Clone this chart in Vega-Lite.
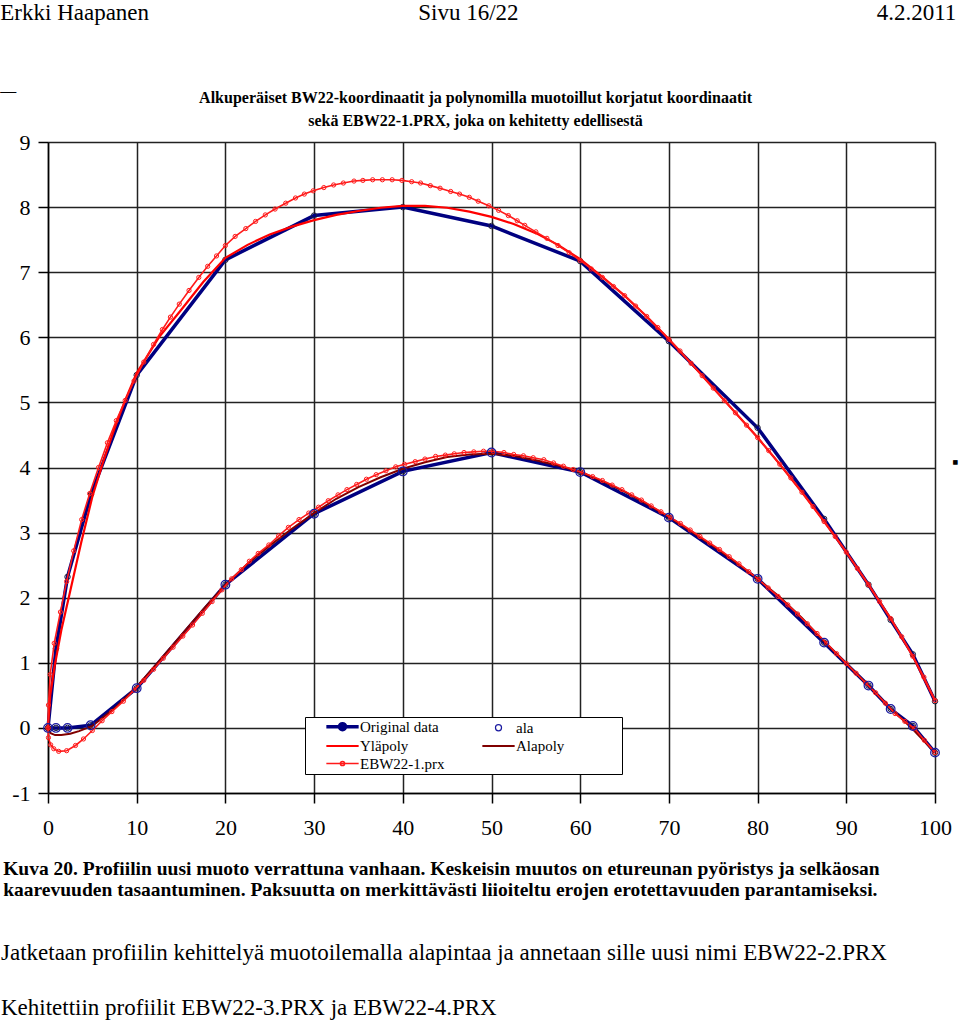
{
  "$schema": "https://vega.github.io/schema/vega-lite/v6.json",
  "width": 887,
  "height": 651,
  "autosize": {"type": "none"},
  "padding": {"left": 48, "top": 142, "right": 25, "bottom": 229},
  "background": "white",
  "config": {
    "view": {"stroke": null},
    "font": "Liberation Serif",
    "axis": {
      "domainColor": "#000", "domainWidth": 1.5,
      "tickColor": "#000", "tickWidth": 1.5, "tickSize": 10,
      "gridColor": "#222", "gridWidth": 1.5, "gridOpacity": 1,
      "labelFont": "Liberation Serif", "labelFontSize": 22, "labelColor": "#000",
      "title": null
    },
    "legend": {
      "labelFont": "Liberation Serif", "labelFontSize": 15, "labelColor": "#000"
    }
  },
  "datasets": {
    "notes": [
      {"id": "h1", "t": "Erkki Haapanen"},
      {"id": "h2", "t": "Sivu 16/22"},
      {"id": "h3", "t": "4.2.2011"},
      {"id": "d1", "t": "—"},
      {"id": "d2", "t": "■"},
      {"id": "t1", "t": "Alkuperäiset BW22-koordinaatit ja polynomilla muotoillut korjatut koordinaatit"},
      {"id": "t2", "t": "sekä EBW22-1.PRX, joka on kehitetty edellisestä"},
      {"id": "c1", "t": "Kuva  20.  Profiilin uusi muoto verrattuna vanhaan.  Keskeisin muutos on etureunan pyöristys ja selkäosan"},
      {"id": "c2", "t": "kaarevuuden tasaantuminen.  Paksuutta on merkittävästi liioiteltu erojen erotettavuuden parantamiseksi."},
      {"id": "c3", "t": "Jatketaan profiilin kehittelyä muotoilemalla alapintaa ja annetaan sille uusi nimi EBW22-2.PRX"},
      {"id": "c4", "t": "Kehitettiin profiilit EBW22-3.PRX ja EBW22-4.PRX"}
    ]
  },
  "data": {"values": [
    {"series":"Original data","s":"u","x":0,"y":0},
    {"series":"Original data","s":"u","x":0.9,"y":1.22},
    {"series":"Original data","s":"u","x":2.2,"y":2.32},
    {"series":"Original data","s":"u","x":4.85,"y":3.59},
    {"series":"Original data","s":"u","x":10,"y":5.42},
    {"series":"Original data","s":"u","x":20,"y":7.19},
    {"series":"Original data","s":"u","x":30,"y":7.87},
    {"series":"Original data","s":"u","x":40,"y":8.0},
    {"series":"Original data","s":"u","x":50,"y":7.71},
    {"series":"Original data","s":"u","x":60,"y":7.17},
    {"series":"Original data","s":"u","x":70,"y":5.94},
    {"series":"Original data","s":"u","x":80,"y":4.61},
    {"series":"Original data","s":"u","x":87.5,"y":3.21},
    {"series":"Original data","s":"u","x":92.5,"y":2.2},
    {"series":"Original data","s":"u","x":95,"y":1.66},
    {"series":"Original data","s":"u","x":97.5,"y":1.13},
    {"series":"Original data","s":"u","x":100,"y":0.41},
    {"series":"Original data","s":"l","x":0,"y":0},
    {"series":"Original data","s":"l","x":0.9,"y":0.0},
    {"series":"Original data","s":"l","x":2.2,"y":0.0},
    {"series":"Original data","s":"l","x":4.8,"y":0.04},
    {"series":"Original data","s":"l","x":10,"y":0.61},
    {"series":"Original data","s":"l","x":20,"y":2.2},
    {"series":"Original data","s":"l","x":30,"y":3.29},
    {"series":"Original data","s":"l","x":40,"y":3.94},
    {"series":"Original data","s":"l","x":50,"y":4.23},
    {"series":"Original data","s":"l","x":60,"y":3.93},
    {"series":"Original data","s":"l","x":70,"y":3.23},
    {"series":"Original data","s":"l","x":80,"y":2.29},
    {"series":"Original data","s":"l","x":87.5,"y":1.31},
    {"series":"Original data","s":"l","x":92.5,"y":0.65},
    {"series":"Original data","s":"l","x":95,"y":0.29},
    {"series":"Original data","s":"l","x":97.5,"y":0.03},
    {"series":"Original data","s":"l","x":100,"y":-0.38},

    {"series":"ala","s":"l","x":0,"y":0},
    {"series":"ala","s":"l","x":0.9,"y":0.0},
    {"series":"ala","s":"l","x":2.2,"y":0.0},
    {"series":"ala","s":"l","x":4.8,"y":0.04},
    {"series":"ala","s":"l","x":10,"y":0.61},
    {"series":"ala","s":"l","x":20,"y":2.2},
    {"series":"ala","s":"l","x":30,"y":3.29},
    {"series":"ala","s":"l","x":40,"y":3.94},
    {"series":"ala","s":"l","x":50,"y":4.23},
    {"series":"ala","s":"l","x":60,"y":3.93},
    {"series":"ala","s":"l","x":70,"y":3.23},
    {"series":"ala","s":"l","x":80,"y":2.29},
    {"series":"ala","s":"l","x":87.5,"y":1.31},
    {"series":"ala","s":"l","x":92.5,"y":0.65},
    {"series":"ala","s":"l","x":95,"y":0.29},
    {"series":"ala","s":"l","x":97.5,"y":0.03},
    {"series":"ala","s":"l","x":100,"y":-0.38},

    {"series":"Yläpoly","s":"u","x":0,"y":0},
    {"series":"Yläpoly","s":"u","x":0.25,"y":0.5},
    {"series":"Yläpoly","s":"u","x":0.75,"y":0.95},
    {"series":"Yläpoly","s":"u","x":1.5,"y":1.5},
    {"series":"Yläpoly","s":"u","x":2.5,"y":2.1},
    {"series":"Yläpoly","s":"u","x":3.75,"y":2.85},
    {"series":"Yläpoly","s":"u","x":5,"y":3.55},
    {"series":"Yläpoly","s":"u","x":6.25,"y":4.1},
    {"series":"Yläpoly","s":"u","x":7.5,"y":4.6},
    {"series":"Yläpoly","s":"u","x":8.75,"y":5.05},
    {"series":"Yläpoly","s":"u","x":10,"y":5.45},
    {"series":"Yläpoly","s":"u","x":12.5,"y":6.0},
    {"series":"Yläpoly","s":"u","x":15,"y":6.42},
    {"series":"Yläpoly","s":"u","x":17.5,"y":6.85},
    {"series":"Yläpoly","s":"u","x":20,"y":7.22},
    {"series":"Yläpoly","s":"u","x":22.5,"y":7.42},
    {"series":"Yläpoly","s":"u","x":25,"y":7.58},
    {"series":"Yläpoly","s":"u","x":27.5,"y":7.7},
    {"series":"Yläpoly","s":"u","x":30,"y":7.8},
    {"series":"Yläpoly","s":"u","x":32.5,"y":7.88},
    {"series":"Yläpoly","s":"u","x":35,"y":7.94},
    {"series":"Yläpoly","s":"u","x":37.5,"y":7.99},
    {"series":"Yläpoly","s":"u","x":40,"y":8.02},
    {"series":"Yläpoly","s":"u","x":42.5,"y":8.02},
    {"series":"Yläpoly","s":"u","x":45,"y":7.99},
    {"series":"Yläpoly","s":"u","x":47.5,"y":7.93},
    {"series":"Yläpoly","s":"u","x":50,"y":7.85},
    {"series":"Yläpoly","s":"u","x":52.5,"y":7.74},
    {"series":"Yläpoly","s":"u","x":55,"y":7.6},
    {"series":"Yläpoly","s":"u","x":57.5,"y":7.42},
    {"series":"Yläpoly","s":"u","x":60,"y":7.2},
    {"series":"Yläpoly","s":"u","x":62.5,"y":6.93},
    {"series":"Yläpoly","s":"u","x":65,"y":6.64},
    {"series":"Yläpoly","s":"u","x":67.5,"y":6.32},
    {"series":"Yläpoly","s":"u","x":70,"y":5.97},
    {"series":"Yläpoly","s":"u","x":72.5,"y":5.6},
    {"series":"Yläpoly","s":"u","x":75,"y":5.22},
    {"series":"Yläpoly","s":"u","x":77.5,"y":4.84},
    {"series":"Yläpoly","s":"u","x":80,"y":4.46},
    {"series":"Yläpoly","s":"u","x":82.5,"y":4.05},
    {"series":"Yläpoly","s":"u","x":85,"y":3.62},
    {"series":"Yläpoly","s":"u","x":87.5,"y":3.17},
    {"series":"Yläpoly","s":"u","x":90,"y":2.7},
    {"series":"Yläpoly","s":"u","x":92.5,"y":2.2},
    {"series":"Yläpoly","s":"u","x":95,"y":1.68},
    {"series":"Yläpoly","s":"u","x":97.5,"y":1.1},
    {"series":"Yläpoly","s":"u","x":100,"y":0.42},

    {"series":"Alapoly","s":"l","x":0,"y":0},
    {"series":"Alapoly","s":"l","x":0.3,"y":-0.08},
    {"series":"Alapoly","s":"l","x":0.8,"y":-0.11},
    {"series":"Alapoly","s":"l","x":1.5,"y":-0.11},
    {"series":"Alapoly","s":"l","x":2.5,"y":-0.09},
    {"series":"Alapoly","s":"l","x":3.5,"y":-0.05},
    {"series":"Alapoly","s":"l","x":5,"y":0.03},
    {"series":"Alapoly","s":"l","x":7.5,"y":0.3},
    {"series":"Alapoly","s":"l","x":10,"y":0.63},
    {"series":"Alapoly","s":"l","x":12.5,"y":1.02},
    {"series":"Alapoly","s":"l","x":15,"y":1.42},
    {"series":"Alapoly","s":"l","x":17.5,"y":1.82},
    {"series":"Alapoly","s":"l","x":20,"y":2.2},
    {"series":"Alapoly","s":"l","x":22.5,"y":2.52},
    {"series":"Alapoly","s":"l","x":25,"y":2.8},
    {"series":"Alapoly","s":"l","x":27.5,"y":3.06},
    {"series":"Alapoly","s":"l","x":30,"y":3.3},
    {"series":"Alapoly","s":"l","x":32.5,"y":3.52},
    {"series":"Alapoly","s":"l","x":35,"y":3.7},
    {"series":"Alapoly","s":"l","x":37.5,"y":3.85},
    {"series":"Alapoly","s":"l","x":40,"y":3.98},
    {"series":"Alapoly","s":"l","x":42.5,"y":4.08},
    {"series":"Alapoly","s":"l","x":45,"y":4.16},
    {"series":"Alapoly","s":"l","x":47.5,"y":4.2},
    {"series":"Alapoly","s":"l","x":50,"y":4.21},
    {"series":"Alapoly","s":"l","x":52.5,"y":4.18},
    {"series":"Alapoly","s":"l","x":55,"y":4.11},
    {"series":"Alapoly","s":"l","x":57.5,"y":4.03},
    {"series":"Alapoly","s":"l","x":60,"y":3.93},
    {"series":"Alapoly","s":"l","x":62.5,"y":3.79},
    {"series":"Alapoly","s":"l","x":65,"y":3.63},
    {"series":"Alapoly","s":"l","x":67.5,"y":3.44},
    {"series":"Alapoly","s":"l","x":70,"y":3.24},
    {"series":"Alapoly","s":"l","x":72.5,"y":3.02},
    {"series":"Alapoly","s":"l","x":75,"y":2.79},
    {"series":"Alapoly","s":"l","x":77.5,"y":2.55},
    {"series":"Alapoly","s":"l","x":80,"y":2.29},
    {"series":"Alapoly","s":"l","x":82.5,"y":2.01},
    {"series":"Alapoly","s":"l","x":85,"y":1.69},
    {"series":"Alapoly","s":"l","x":87.5,"y":1.33},
    {"series":"Alapoly","s":"l","x":90,"y":0.99},
    {"series":"Alapoly","s":"l","x":92.5,"y":0.65},
    {"series":"Alapoly","s":"l","x":95,"y":0.3},
    {"series":"Alapoly","s":"l","x":97.5,"y":-0.02},
    {"series":"Alapoly","s":"l","x":100,"y":-0.38},

    {"series":"EBW22-1.prx","s":"u","x":0,"y":0},
    {"series":"EBW22-1.prx","s":"u","x":0.05,"y":0.35},
    {"series":"EBW22-1.prx","s":"u","x":0.25,"y":0.82},
    {"series":"EBW22-1.prx","s":"u","x":0.7,"y":1.3},
    {"series":"EBW22-1.prx","s":"u","x":1.4,"y":1.78},
    {"series":"EBW22-1.prx","s":"u","x":2.1,"y":2.25},
    {"series":"EBW22-1.prx","s":"u","x":2.9,"y":2.72},
    {"series":"EBW22-1.prx","s":"u","x":3.8,"y":3.2},
    {"series":"EBW22-1.prx","s":"u","x":4.7,"y":3.6},
    {"series":"EBW22-1.prx","s":"u","x":5.7,"y":4.0},
    {"series":"EBW22-1.prx","s":"u","x":6.7,"y":4.38},
    {"series":"EBW22-1.prx","s":"u","x":7.7,"y":4.72},
    {"series":"EBW22-1.prx","s":"u","x":8.7,"y":5.03},
    {"series":"EBW22-1.prx","s":"u","x":9.7,"y":5.33},
    {"series":"EBW22-1.prx","s":"u","x":10.8,"y":5.62},
    {"series":"EBW22-1.prx","s":"u","x":11.9,"y":5.89},
    {"series":"EBW22-1.prx","s":"u","x":12.9,"y":6.12},
    {"series":"EBW22-1.prx","s":"u","x":13.8,"y":6.31},
    {"series":"EBW22-1.prx","s":"u","x":14.8,"y":6.51},
    {"series":"EBW22-1.prx","s":"u","x":15.9,"y":6.72},
    {"series":"EBW22-1.prx","s":"u","x":17.0,"y":6.92},
    {"series":"EBW22-1.prx","s":"u","x":18.0,"y":7.09},
    {"series":"EBW22-1.prx","s":"u","x":19.0,"y":7.25},
    {"series":"EBW22-1.prx","s":"u","x":20.0,"y":7.41},
    {"series":"EBW22-1.prx","s":"u","x":21.1,"y":7.55},
    {"series":"EBW22-1.prx","s":"u","x":22.3,"y":7.67},
    {"series":"EBW22-1.prx","s":"u","x":23.4,"y":7.78},
    {"series":"EBW22-1.prx","s":"u","x":24.5,"y":7.88},
    {"series":"EBW22-1.prx","s":"u","x":25.6,"y":7.97},
    {"series":"EBW22-1.prx","s":"u","x":26.8,"y":8.06},
    {"series":"EBW22-1.prx","s":"u","x":27.9,"y":8.14},
    {"series":"EBW22-1.prx","s":"u","x":28.9,"y":8.2},
    {"series":"EBW22-1.prx","s":"u","x":29.9,"y":8.25},
    {"series":"EBW22-1.prx","s":"u","x":31.1,"y":8.3},
    {"series":"EBW22-1.prx","s":"u","x":32.2,"y":8.34},
    {"series":"EBW22-1.prx","s":"u","x":33.3,"y":8.37},
    {"series":"EBW22-1.prx","s":"u","x":34.5,"y":8.4},
    {"series":"EBW22-1.prx","s":"u","x":35.5,"y":8.41},
    {"series":"EBW22-1.prx","s":"u","x":36.6,"y":8.42},
    {"series":"EBW22-1.prx","s":"u","x":37.7,"y":8.42},
    {"series":"EBW22-1.prx","s":"u","x":38.8,"y":8.42},
    {"series":"EBW22-1.prx","s":"u","x":39.9,"y":8.41},
    {"series":"EBW22-1.prx","s":"u","x":41.0,"y":8.39},
    {"series":"EBW22-1.prx","s":"u","x":42.0,"y":8.37},
    {"series":"EBW22-1.prx","s":"u","x":43.1,"y":8.33},
    {"series":"EBW22-1.prx","s":"u","x":44.2,"y":8.29},
    {"series":"EBW22-1.prx","s":"u","x":45.4,"y":8.24},
    {"series":"EBW22-1.prx","s":"u","x":46.4,"y":8.2},
    {"series":"EBW22-1.prx","s":"u","x":47.5,"y":8.15},
    {"series":"EBW22-1.prx","s":"u","x":48.5,"y":8.09},
    {"series":"EBW22-1.prx","s":"u","x":49.7,"y":8.02},
    {"series":"EBW22-1.prx","s":"u","x":50.8,"y":7.95},
    {"series":"EBW22-1.prx","s":"u","x":51.9,"y":7.87},
    {"series":"EBW22-1.prx","s":"u","x":52.9,"y":7.79},
    {"series":"EBW22-1.prx","s":"u","x":53.75,"y":7.72},
    {"series":"EBW22-1.prx","s":"u","x":55,"y":7.62},
    {"series":"EBW22-1.prx","s":"u","x":56.25,"y":7.52},
    {"series":"EBW22-1.prx","s":"u","x":57.5,"y":7.41},
    {"series":"EBW22-1.prx","s":"u","x":58.75,"y":7.3},
    {"series":"EBW22-1.prx","s":"u","x":60,"y":7.18},
    {"series":"EBW22-1.prx","s":"u","x":61.25,"y":7.05},
    {"series":"EBW22-1.prx","s":"u","x":62.5,"y":6.92},
    {"series":"EBW22-1.prx","s":"u","x":63.75,"y":6.78},
    {"series":"EBW22-1.prx","s":"u","x":65,"y":6.64},
    {"series":"EBW22-1.prx","s":"u","x":66.25,"y":6.48},
    {"series":"EBW22-1.prx","s":"u","x":67.5,"y":6.32},
    {"series":"EBW22-1.prx","s":"u","x":68.75,"y":6.15},
    {"series":"EBW22-1.prx","s":"u","x":70,"y":5.97},
    {"series":"EBW22-1.prx","s":"u","x":71.25,"y":5.79},
    {"series":"EBW22-1.prx","s":"u","x":72.5,"y":5.6},
    {"series":"EBW22-1.prx","s":"u","x":73.75,"y":5.41},
    {"series":"EBW22-1.prx","s":"u","x":75,"y":5.22},
    {"series":"EBW22-1.prx","s":"u","x":76.25,"y":5.03},
    {"series":"EBW22-1.prx","s":"u","x":77.5,"y":4.84},
    {"series":"EBW22-1.prx","s":"u","x":78.75,"y":4.65},
    {"series":"EBW22-1.prx","s":"u","x":80,"y":4.46},
    {"series":"EBW22-1.prx","s":"u","x":81.25,"y":4.26},
    {"series":"EBW22-1.prx","s":"u","x":82.5,"y":4.05},
    {"series":"EBW22-1.prx","s":"u","x":83.75,"y":3.84},
    {"series":"EBW22-1.prx","s":"u","x":85,"y":3.62},
    {"series":"EBW22-1.prx","s":"u","x":86.25,"y":3.4},
    {"series":"EBW22-1.prx","s":"u","x":87.5,"y":3.17},
    {"series":"EBW22-1.prx","s":"u","x":88.75,"y":2.94},
    {"series":"EBW22-1.prx","s":"u","x":90,"y":2.7},
    {"series":"EBW22-1.prx","s":"u","x":91.25,"y":2.45},
    {"series":"EBW22-1.prx","s":"u","x":92.5,"y":2.2},
    {"series":"EBW22-1.prx","s":"u","x":93.75,"y":1.94},
    {"series":"EBW22-1.prx","s":"u","x":95,"y":1.68},
    {"series":"EBW22-1.prx","s":"u","x":96.25,"y":1.4},
    {"series":"EBW22-1.prx","s":"u","x":97.5,"y":1.1},
    {"series":"EBW22-1.prx","s":"u","x":98.75,"y":0.78},
    {"series":"EBW22-1.prx","s":"u","x":100,"y":0.42},

    {"series":"EBW22-1.prx","s":"l","x":0,"y":0},
    {"series":"EBW22-1.prx","s":"l","x":0.05,"y":-0.15},
    {"series":"EBW22-1.prx","s":"l","x":0.3,"y":-0.26},
    {"series":"EBW22-1.prx","s":"l","x":0.65,"y":-0.32},
    {"series":"EBW22-1.prx","s":"l","x":1.2,"y":-0.36},
    {"series":"EBW22-1.prx","s":"l","x":2.1,"y":-0.35},
    {"series":"EBW22-1.prx","s":"l","x":3.1,"y":-0.27},
    {"series":"EBW22-1.prx","s":"l","x":4.0,"y":-0.17},
    {"series":"EBW22-1.prx","s":"l","x":5.0,"y":-0.04},
    {"series":"EBW22-1.prx","s":"l","x":6.1,"y":0.11},
    {"series":"EBW22-1.prx","s":"l","x":7.2,"y":0.25},
    {"series":"EBW22-1.prx","s":"l","x":8.5,"y":0.41},
    {"series":"EBW22-1.prx","s":"l","x":9.7,"y":0.58},
    {"series":"EBW22-1.prx","s":"l","x":10.8,"y":0.73},
    {"series":"EBW22-1.prx","s":"l","x":11.9,"y":0.9},
    {"series":"EBW22-1.prx","s":"l","x":13.0,"y":1.07},
    {"series":"EBW22-1.prx","s":"l","x":14.1,"y":1.24},
    {"series":"EBW22-1.prx","s":"l","x":15.2,"y":1.41},
    {"series":"EBW22-1.prx","s":"l","x":16.3,"y":1.58},
    {"series":"EBW22-1.prx","s":"l","x":17.4,"y":1.76},
    {"series":"EBW22-1.prx","s":"l","x":18.5,"y":1.94},
    {"series":"EBW22-1.prx","s":"l","x":19.6,"y":2.12},
    {"series":"EBW22-1.prx","s":"l","x":20.7,"y":2.29},
    {"series":"EBW22-1.prx","s":"l","x":21.8,"y":2.43},
    {"series":"EBW22-1.prx","s":"l","x":22.7,"y":2.56},
    {"series":"EBW22-1.prx","s":"l","x":23.7,"y":2.68},
    {"series":"EBW22-1.prx","s":"l","x":24.9,"y":2.81},
    {"series":"EBW22-1.prx","s":"l","x":26.0,"y":2.95},
    {"series":"EBW22-1.prx","s":"l","x":27.1,"y":3.08},
    {"series":"EBW22-1.prx","s":"l","x":28.3,"y":3.2},
    {"series":"EBW22-1.prx","s":"l","x":29.4,"y":3.3},
    {"series":"EBW22-1.prx","s":"l","x":30.5,"y":3.39},
    {"series":"EBW22-1.prx","s":"l","x":31.6,"y":3.49},
    {"series":"EBW22-1.prx","s":"l","x":32.7,"y":3.58},
    {"series":"EBW22-1.prx","s":"l","x":33.7,"y":3.66},
    {"series":"EBW22-1.prx","s":"l","x":34.8,"y":3.74},
    {"series":"EBW22-1.prx","s":"l","x":35.9,"y":3.82},
    {"series":"EBW22-1.prx","s":"l","x":37.0,"y":3.89},
    {"series":"EBW22-1.prx","s":"l","x":38.1,"y":3.95},
    {"series":"EBW22-1.prx","s":"l","x":39.2,"y":4.01},
    {"series":"EBW22-1.prx","s":"l","x":40.2,"y":4.05},
    {"series":"EBW22-1.prx","s":"l","x":41.4,"y":4.09},
    {"series":"EBW22-1.prx","s":"l","x":42.5,"y":4.13},
    {"series":"EBW22-1.prx","s":"l","x":43.7,"y":4.17},
    {"series":"EBW22-1.prx","s":"l","x":44.8,"y":4.19},
    {"series":"EBW22-1.prx","s":"l","x":45.8,"y":4.21},
    {"series":"EBW22-1.prx","s":"l","x":46.9,"y":4.23},
    {"series":"EBW22-1.prx","s":"l","x":48.0,"y":4.24},
    {"series":"EBW22-1.prx","s":"l","x":49.1,"y":4.25},
    {"series":"EBW22-1.prx","s":"l","x":50.2,"y":4.25},
    {"series":"EBW22-1.prx","s":"l","x":51.4,"y":4.23},
    {"series":"EBW22-1.prx","s":"l","x":52.5,"y":4.2},
    {"series":"EBW22-1.prx","s":"l","x":53.6,"y":4.18},
    {"series":"EBW22-1.prx","s":"l","x":54.7,"y":4.15},
    {"series":"EBW22-1.prx","s":"l","x":55.9,"y":4.12},
    {"series":"EBW22-1.prx","s":"l","x":57.0,"y":4.07},
    {"series":"EBW22-1.prx","s":"l","x":58.1,"y":4.02},
    {"series":"EBW22-1.prx","s":"l","x":59.2,"y":3.97},
    {"series":"EBW22-1.prx","s":"l","x":60.3,"y":3.92},
    {"series":"EBW22-1.prx","s":"l","x":61.4,"y":3.86},
    {"series":"EBW22-1.prx","s":"l","x":62.5,"y":3.8},
    {"series":"EBW22-1.prx","s":"l","x":63.6,"y":3.73},
    {"series":"EBW22-1.prx","s":"l","x":64.7,"y":3.66},
    {"series":"EBW22-1.prx","s":"l","x":65.8,"y":3.58},
    {"series":"EBW22-1.prx","s":"l","x":66.9,"y":3.5},
    {"series":"EBW22-1.prx","s":"l","x":68.0,"y":3.41},
    {"series":"EBW22-1.prx","s":"l","x":69.1,"y":3.32},
    {"series":"EBW22-1.prx","s":"l","x":70.2,"y":3.23},
    {"series":"EBW22-1.prx","s":"l","x":71.3,"y":3.14},
    {"series":"EBW22-1.prx","s":"l","x":72.4,"y":3.04},
    {"series":"EBW22-1.prx","s":"l","x":73.5,"y":2.94},
    {"series":"EBW22-1.prx","s":"l","x":74.6,"y":2.84},
    {"series":"EBW22-1.prx","s":"l","x":75.7,"y":2.74},
    {"series":"EBW22-1.prx","s":"l","x":76.8,"y":2.63},
    {"series":"EBW22-1.prx","s":"l","x":77.9,"y":2.52},
    {"series":"EBW22-1.prx","s":"l","x":79.0,"y":2.4},
    {"series":"EBW22-1.prx","s":"l","x":80.1,"y":2.28},
    {"series":"EBW22-1.prx","s":"l","x":81.2,"y":2.15},
    {"series":"EBW22-1.prx","s":"l","x":82.3,"y":2.02},
    {"series":"EBW22-1.prx","s":"l","x":83.4,"y":1.89},
    {"series":"EBW22-1.prx","s":"l","x":84.5,"y":1.75},
    {"series":"EBW22-1.prx","s":"l","x":85.6,"y":1.6},
    {"series":"EBW22-1.prx","s":"l","x":86.7,"y":1.45},
    {"series":"EBW22-1.prx","s":"l","x":87.8,"y":1.3},
    {"series":"EBW22-1.prx","s":"l","x":88.9,"y":1.14},
    {"series":"EBW22-1.prx","s":"l","x":90.0,"y":0.99},
    {"series":"EBW22-1.prx","s":"l","x":91.1,"y":0.84},
    {"series":"EBW22-1.prx","s":"l","x":92.2,"y":0.69},
    {"series":"EBW22-1.prx","s":"l","x":93.3,"y":0.54},
    {"series":"EBW22-1.prx","s":"l","x":94.4,"y":0.38},
    {"series":"EBW22-1.prx","s":"l","x":95.5,"y":0.22},
    {"series":"EBW22-1.prx","s":"l","x":96.6,"y":0.1},
    {"series":"EBW22-1.prx","s":"l","x":97.7,"y":-0.01},
    {"series":"EBW22-1.prx","s":"l","x":98.8,"y":-0.19},
    {"series":"EBW22-1.prx","s":"l","x":100,"y":-0.38}
  ]},
  "layer": [
    {
      "transform": [{"filter": "datum.series === 'Original data'"}],
      "mark": {"type": "line", "strokeWidth": 3.5},
      "encoding": {
        "x": {"field": "x", "type": "quantitative",
          "scale": {"domain": [0, 100], "nice": false, "zero": false},
          "axis": {"values": [0,10,20,30,40,50,60,70,80,90,100], "grid": true, "labelPadding": 14, "labelFlush": false}},
        "y": {"field": "y", "type": "quantitative",
          "scale": {"domain": [-1, 9], "nice": false, "zero": false},
          "axis": {"values": [-1,0,1,2,3,4,5,6,7,8,9], "grid": true, "labelPadding": 8, "labelExpr": "'' + datum.value"}},
        "detail": {"field": "s"},
        "color": {"field": "series", "type": "nominal",
          "scale": {"domain": ["Original data", "ala", "Yläpoly", "Alapoly", "EBW22-1.prx"],
                    "range": ["#000080", "#1a1aa0", "#ff0000", "#800000", "#ff1a1a"]},
          "legend": {
            "orient": "none", "legendX": 257, "legendY": 575, "title": null,
            "columns": 2, "direction": "horizontal",
            "fillColor": "#ffffff", "strokeColor": "#000000", "padding": 2,
            "columnPadding": 18, "rowPadding": 1.5,
            "labelFont": "Liberation Serif", "labelFontSize": 15, "labelColor": "#000",
            "labelExpr": "datum.label == 'Alapoly' ? 'Alapoly\u2800\u2800\u2800\u2800\u2800' : datum.label",
            "symbolSize": 361, "symbolOffset": 28, "labelOffset": 10,
            "encode": {"symbols": {"update": {
              "shape": {"signal": "datum.value === 'Original data' ? 'M-1.7,0H1.7M-0.32,0A0.32,0.32 0 1,1 0.32,0A0.32,0.32 0 1,1 -0.32,0' : datum.value === 'ala' ? 'M-0.32,0A0.32,0.32 0 1,1 0.32,0A0.32,0.32 0 1,1 -0.32,0' : datum.value === 'EBW22-1.prx' ? 'M-1.7,0H1.7M-0.22,0A0.22,0.22 0 1,1 0.22,0A0.22,0.22 0 1,1 -0.22,0' : 'M-1.7,0H1.7'"},
              "strokeWidth": {"signal": "datum.value === 'Original data' ? 3.5 : datum.value === 'ala' ? 1.2 : datum.value === 'EBW22-1.prx' ? 1.5 : 2.2"},
              "fill": {"value": "transparent"},
              "opacity": {"value": 1}
            }}}
          }
        }
      }
    },
    {
      "transform": [{"filter": "datum.series === 'Original data'"}],
      "mark": {"type": "point", "filled": false, "stroke": "#1c1c3c", "strokeWidth": 1, "size": 30, "opacity": 1},
      "encoding": {"x": {"field": "x", "type": "quantitative"}, "y": {"field": "y", "type": "quantitative"}}
    },
    {
      "transform": [{"filter": "datum.series === 'Alapoly'"}],
      "mark": {"type": "line", "strokeWidth": 2},
      "encoding": {"x": {"field": "x", "type": "quantitative"}, "y": {"field": "y", "type": "quantitative"}, "color": {"field": "series", "type": "nominal"}}
    },
    {
      "transform": [{"filter": "datum.series === 'Yläpoly'"}],
      "mark": {"type": "line", "strokeWidth": 2.2},
      "encoding": {"x": {"field": "x", "type": "quantitative"}, "y": {"field": "y", "type": "quantitative"}, "color": {"field": "series", "type": "nominal"}}
    },
    {
      "transform": [{"filter": "datum.series === 'EBW22-1.prx'"}],
      "mark": {"type": "line", "strokeWidth": 1.6},
      "encoding": {"x": {"field": "x", "type": "quantitative"}, "y": {"field": "y", "type": "quantitative"}, "detail": {"field": "s"}, "color": {"field": "series", "type": "nominal"}}
    },
    {
      "transform": [{"filter": "datum.series === 'EBW22-1.prx'"}],
      "mark": {"type": "point", "filled": false, "strokeWidth": 1, "size": 18, "opacity": 1},
      "encoding": {"x": {"field": "x", "type": "quantitative"}, "y": {"field": "y", "type": "quantitative"}, "color": {"field": "series", "type": "nominal"}}
    },
    {
      "transform": [{"filter": "datum.series === 'ala'"}],
      "mark": {"type": "point", "filled": false, "strokeWidth": 1.2, "size": 75, "opacity": 1},
      "encoding": {"x": {"field": "x", "type": "quantitative"}, "y": {"field": "y", "type": "quantitative"}, "color": {"field": "series", "type": "nominal"}}
    },
    {
      "data": {"name": "notes"},
      "transform": [{"filter": "datum.id === 'h1'"}],
      "mark": {"type": "text", "clip": false, "align": "left", "baseline": "middle", "font": "Liberation Serif", "fontSize": 23, "fill": "#000"},
      "encoding": {"x": {"datum": -5.38}, "y": {"datum": 10.98}, "text": {"field": "t", "type": "nominal"}}
    },
    {
      "data": {"name": "notes"},
      "transform": [{"filter": "datum.id === 'h2'"}],
      "mark": {"type": "text", "clip": false, "align": "center", "baseline": "middle", "font": "Liberation Serif", "fontSize": 23, "fill": "#000"},
      "encoding": {"x": {"datum": 47.4}, "y": {"datum": 10.98}, "text": {"field": "t", "type": "nominal"}}
    },
    {
      "data": {"name": "notes"},
      "transform": [{"filter": "datum.id === 'h3'"}],
      "mark": {"type": "text", "clip": false, "align": "right", "baseline": "middle", "font": "Liberation Serif", "fontSize": 23, "fill": "#000"},
      "encoding": {"x": {"datum": 102.4}, "y": {"datum": 10.98}, "text": {"field": "t", "type": "nominal"}}
    },
    {
      "data": {"name": "notes"},
      "transform": [{"filter": "datum.id === 'd1'"}],
      "mark": {"type": "text", "clip": false, "align": "left", "baseline": "middle", "font": "Liberation Serif", "fontSize": 16, "fill": "#000"},
      "encoding": {"x": {"datum": -5.38}, "y": {"datum": 9.78}, "text": {"field": "t", "type": "nominal"}}
    },
    {
      "data": {"name": "notes"},
      "transform": [{"filter": "datum.id === 'd2'"}],
      "mark": {"type": "text", "clip": false, "align": "center", "baseline": "middle", "font": "DejaVu Sans", "fontSize": 6, "fill": "#000"},
      "encoding": {"x": {"datum": 102.3}, "y": {"datum": 4.09}, "text": {"field": "t", "type": "nominal"}}
    },
    {
      "data": {"name": "notes"},
      "transform": [{"filter": "datum.id === 't1'"}],
      "mark": {"type": "text", "clip": false, "align": "center", "baseline": "middle", "font": "Liberation Serif", "fontSize": 16, "fontWeight": "bold", "fill": "#000"},
      "encoding": {"x": {"datum": 48.2}, "y": {"datum": 9.677}, "text": {"field": "t", "type": "nominal"}}
    },
    {
      "data": {"name": "notes"},
      "transform": [{"filter": "datum.id === 't2'"}],
      "mark": {"type": "text", "clip": false, "align": "center", "baseline": "middle", "font": "Liberation Serif", "fontSize": 16, "fontWeight": "bold", "fill": "#000"},
      "encoding": {"x": {"datum": 48.2}, "y": {"datum": 9.324}, "text": {"field": "t", "type": "nominal"}}
    },
    {
      "data": {"name": "notes"},
      "transform": [{"filter": "datum.id === 'c1'"}],
      "mark": {"type": "text", "clip": false, "align": "left", "baseline": "middle", "font": "Liberation Serif", "fontSize": 19.5, "fontWeight": "bold", "fill": "#000"},
      "encoding": {"x": {"datum": -5.05}, "y": {"datum": -2.166}, "text": {"field": "t", "type": "nominal"}}
    },
    {
      "data": {"name": "notes"},
      "transform": [{"filter": "datum.id === 'c2'"}],
      "mark": {"type": "text", "clip": false, "align": "left", "baseline": "middle", "font": "Liberation Serif", "fontSize": 19.5, "fontWeight": "bold", "fill": "#000"},
      "encoding": {"x": {"datum": -5.05}, "y": {"datum": -2.488}, "text": {"field": "t", "type": "nominal"}}
    },
    {
      "data": {"name": "notes"},
      "transform": [{"filter": "datum.id === 'c3'"}],
      "mark": {"type": "text", "clip": false, "align": "left", "baseline": "middle", "font": "Liberation Serif", "fontSize": 23, "fill": "#000"},
      "encoding": {"x": {"datum": -5.3}, "y": {"datum": -3.456}, "text": {"field": "t", "type": "nominal"}}
    },
    {
      "data": {"name": "notes"},
      "transform": [{"filter": "datum.id === 'c4'"}],
      "mark": {"type": "text", "clip": false, "align": "left", "baseline": "middle", "font": "Liberation Serif", "fontSize": 23, "fill": "#000"},
      "encoding": {"x": {"datum": -5.3}, "y": {"datum": -4.3}, "text": {"field": "t", "type": "nominal"}}
    }
  ]
}
